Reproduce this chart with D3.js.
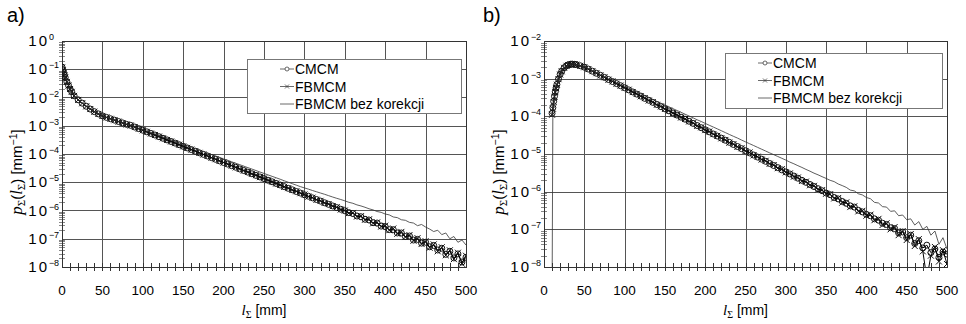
<!DOCTYPE html>
<html>
<head>
<meta charset="utf-8">
<script src="https://cdn.jsdelivr.net/npm/d3@7"></script>
<style>
body { margin: 0; background: #fff; }
text { font-family: "Liberation Sans", Arial, sans-serif; fill: #000; }
</style>
</head>
<body>
<script>
// path length l (mm) at which the values were read
var lA = [0,1,2,3,4,6,8,10,12,15].concat(d3.range(20, 501, 5));
var lB = [10,11,12,13,14,15,16,18,20,22,25,28,30,33,35,38].concat(d3.range(40, 501, 5));

// panel a) p(l) [1/mm]
var cmcmA = [1.2e-1, 9.5e-2, 7.6e-2, 6.2e-2, 5.1e-2, 3.6e-2, 2.7e-2, 2.0e-2, 1.6e-2, 1.15e-2,
  8.3e-3, 6.3e-3, 4.9e-3, 3.9e-3, 3.16e-3, 2.63e-3, 2.24e-3, 1.98e-3, 1.77e-3, 1.58e-3,
  1.41e-3, 1.26e-3, 1.12e-3, 1.03e-3, 9.0e-4, 7.9e-4, 6.95e-4, 6.1e-4, 5.35e-4, 4.7e-4,
  4.1e-4, 3.6e-4, 3.16e-4, 2.77e-4, 2.43e-4, 2.13e-4, 1.87e-4, 1.64e-4, 1.44e-4, 1.26e-4,
  1.1e-4, 9.7e-5, 8.5e-5, 7.45e-5, 6.5e-5, 5.7e-5, 5.0e-5, 4.4e-5, 3.85e-5, 3.4e-5,
  2.95e-5, 2.6e-5, 2.28e-5, 2.0e-5, 1.75e-5, 1.54e-5, 1.35e-5, 1.18e-5, 1.04e-5, 9.1e-6,
  8.0e-6, 7.0e-6, 6.1e-6, 5.4e-6, 4.7e-6, 4.15e-6, 3.6e-6, 3.2e-6, 2.8e-6, 2.45e-6,
  2.15e-6, 1.88e-6, 1.65e-6, 1.45e-6, 1.27e-6, 1.11e-6, 9.8e-7, 8.4e-7, 7.8e-7, 6.4e-7,
  6.0e-7, 4.9e-7, 4.6e-7, 3.7e-7, 3.6e-7, 2.8e-7, 2.7e-7, 2.1e-7, 2.1e-7, 1.6e-7,
  1.6e-7, 1.2e-7, 1.25e-7, 9.0e-8, 9.5e-8, 7.0e-8, 7.5e-8, 5.2e-8, 5.8e-8, 4.0e-8,
  4.6e-8, 2.8e-8, 3.6e-8, 2.1e-8, 2.9e-8, 1.5e-8, 2.2e-8];
var fbmcmA = [1.15e-1, 9.2e-2, 7.4e-2, 6.0e-2, 5.0e-2, 3.55e-2, 2.65e-2, 2.0e-2, 1.58e-2, 1.14e-2,
  8.2e-3, 6.25e-3, 4.85e-3, 3.9e-3, 3.15e-3, 2.62e-3, 2.22e-3, 1.97e-3, 1.76e-3, 1.57e-3,
  1.4e-3, 1.25e-3, 1.11e-3, 1.02e-3, 9.0e-4, 7.85e-4, 6.9e-4, 6.1e-4, 5.3e-4, 4.7e-4,
  4.15e-4, 3.6e-4, 3.15e-4, 2.78e-4, 2.42e-4, 2.14e-4, 1.86e-4, 1.65e-4, 1.43e-4, 1.27e-4,
  1.1e-4, 9.6e-5, 8.5e-5, 7.4e-5, 6.55e-5, 5.7e-5, 5.0e-5, 4.4e-5, 3.9e-5, 3.35e-5,
  2.98e-5, 2.58e-5, 2.3e-5, 1.98e-5, 1.77e-5, 1.52e-5, 1.36e-5, 1.17e-5, 1.05e-5, 9.0e-6,
  8.1e-6, 6.9e-6, 6.2e-6, 5.3e-6, 4.8e-6, 4.1e-6, 3.7e-6, 3.1e-6, 2.85e-6, 2.4e-6,
  2.2e-6, 1.85e-6, 1.7e-6, 1.42e-6, 1.3e-6, 1.08e-6, 1.0e-6, 8.0e-7, 8.2e-7, 6.1e-7,
  6.3e-7, 4.7e-7, 4.9e-7, 3.5e-7, 3.8e-7, 2.7e-7, 2.9e-7, 2.0e-7, 2.3e-7, 1.5e-7,
  1.75e-7, 1.15e-7, 1.35e-7, 8.5e-8, 1.05e-7, 6.5e-8, 8.2e-8, 4.8e-8, 6.3e-8, 3.6e-8,
  5.0e-8, 2.6e-8, 3.9e-8, 1.9e-8, 3.2e-8, 1.3e-8, 2.5e-8];
var rawA = [1.2e-1, 9.4e-2, 7.5e-2, 6.1e-2, 5.1e-2, 3.6e-2, 2.7e-2, 2.0e-2, 1.6e-2, 1.15e-2,
  8.3e-3, 6.3e-3, 4.9e-3, 3.9e-3, 3.17e-3, 2.64e-3, 2.25e-3, 1.99e-3, 1.78e-3, 1.6e-3,
  1.43e-3, 1.28e-3, 1.14e-3, 1.04e-3, 9.15e-4, 8.1e-4, 7.2e-4, 6.4e-4, 5.7e-4, 5.05e-4,
  4.5e-4, 4.0e-4, 3.55e-4, 3.15e-4, 2.8e-4, 2.48e-4, 2.2e-4, 1.96e-4, 1.74e-4, 1.55e-4,
  1.37e-4, 1.22e-4, 1.08e-4, 9.6e-5, 8.5e-5, 7.6e-5, 6.7e-5, 6.0e-5, 5.3e-5, 4.7e-5,
  4.2e-5, 3.7e-5, 3.3e-5, 2.93e-5, 2.6e-5, 2.3e-5, 2.05e-5, 1.82e-5, 1.62e-5, 1.44e-5,
  1.28e-5, 1.13e-5, 1.0e-5, 8.9e-6, 7.9e-6, 7.0e-6, 6.3e-6, 5.7e-6, 5.1e-6, 4.6e-6,
  4.15e-6, 3.75e-6, 3.35e-6, 3.0e-6, 2.7e-6, 2.45e-6, 2.2e-6, 1.95e-6, 1.8e-6, 1.58e-6,
  1.45e-6, 1.3e-6, 1.15e-6, 1.05e-6, 9.2e-7, 8.6e-7, 7.5e-7, 7.0e-7, 5.9e-7, 5.6e-7,
  4.7e-7, 4.5e-7, 3.8e-7, 3.6e-7, 2.9e-7, 3.2e-7, 2.6e-7, 2.2e-7, 1.8e-7, 2.0e-7,
  1.4e-7, 1.6e-7, 1.0e-7, 1.2e-7, 7.5e-8, 9.0e-8, 6.0e-8];

// panel b) p(l) [1/mm]
var cmcmB = [1.2e-4, 1.7e-4, 2.5e-4, 3.4e-4, 4.5e-4, 5.7e-4, 7.0e-4, 9.8e-4,
  1.3e-3, 1.58e-3, 1.95e-3, 2.2e-3, 2.32e-3, 2.42e-3, 2.44e-3, 2.4e-3,
  2.36e-3, 2.2e-3, 2.02e-3, 1.8e-3, 1.58e-3, 1.39e-3, 1.23e-3, 1.08e-3, 9.5e-4, 8.4e-4,
  7.4e-4, 6.5e-4, 5.75e-4, 5.05e-4, 4.45e-4, 3.9e-4, 3.45e-4, 3.0e-4, 2.67e-4, 2.35e-4,
  2.06e-4, 1.81e-4, 1.59e-4, 1.4e-4, 1.23e-4, 1.08e-4, 9.5e-5, 8.4e-5, 7.4e-5, 6.5e-5,
  5.7e-5, 5.0e-5, 4.4e-5, 3.87e-5, 3.4e-5, 3.0e-5, 2.64e-5, 2.32e-5, 2.04e-5, 1.79e-5,
  1.58e-5, 1.39e-5, 1.22e-5, 1.07e-5, 9.4e-6, 8.3e-6, 7.3e-6, 6.4e-6, 5.6e-6, 4.95e-6,
  4.35e-6, 3.8e-6, 3.35e-6, 2.95e-6, 2.6e-6, 2.28e-6, 2.0e-6, 1.77e-6, 1.55e-6, 1.37e-6,
  1.2e-6, 1.06e-6, 9.2e-7, 8.3e-7, 7.0e-7, 6.4e-7, 5.5e-7, 4.9e-7, 4.2e-7, 3.9e-7,
  3.2e-7, 2.9e-7, 2.5e-7, 2.3e-7, 1.9e-7, 1.75e-7, 1.45e-7, 1.35e-7, 1.1e-7, 1.05e-7,
  8.0e-8, 8.5e-8, 6.0e-8, 7.0e-8, 4.2e-8, 5.0e-8, 3.2e-8, 3.8e-8, 2.4e-8, 3.0e-8,
  1.8e-8, 2.5e-8, 2.2e-8];
var fbmcmB = [1.1e-4, 1.6e-4, 2.4e-4, 3.3e-4, 4.4e-4, 5.6e-4, 6.9e-4, 9.7e-4,
  1.29e-3, 1.57e-3, 1.94e-3, 2.19e-3, 2.31e-3, 2.41e-3, 2.43e-3, 2.39e-3,
  2.35e-3, 2.19e-3, 2.01e-3, 1.79e-3, 1.58e-3, 1.4e-3, 1.22e-3, 1.09e-3, 9.4e-4, 8.45e-4,
  7.35e-4, 6.55e-4, 5.7e-4, 5.1e-4, 4.4e-4, 3.95e-4, 3.4e-4, 3.05e-4, 2.63e-4, 2.38e-4,
  2.03e-4, 1.83e-4, 1.57e-4, 1.42e-4, 1.21e-4, 1.1e-4, 9.3e-5, 8.5e-5, 7.3e-5, 6.6e-5,
  5.6e-5, 5.1e-5, 4.3e-5, 3.95e-5, 3.35e-5, 3.05e-5, 2.6e-5, 2.36e-5, 2.0e-5, 1.83e-5,
  1.55e-5, 1.42e-5, 1.2e-5, 1.1e-5, 9.2e-6, 8.5e-6, 7.1e-6, 6.6e-6, 5.5e-6, 5.1e-6,
  4.2e-6, 3.95e-6, 3.25e-6, 3.05e-6, 2.5e-6, 2.38e-6, 1.92e-6, 1.85e-6, 1.48e-6, 1.43e-6,
  1.14e-6, 1.1e-6, 8.8e-7, 8.6e-7, 6.6e-7, 6.8e-7, 5.1e-7, 5.2e-7, 3.9e-7, 4.1e-7,
  3.0e-7, 3.1e-7, 2.3e-7, 2.45e-7, 1.75e-7, 1.9e-7, 1.3e-7, 1.45e-7, 1.0e-7, 1.15e-7,
  7.0e-8, 9.0e-8, 5.2e-8, 7.5e-8, 3.6e-8, 5.5e-8, 2.6e-8, 5e-9, 2.0e-8, 3.4e-8,
  1.4e-8, 2.8e-8, 1.2e-8];
var rawB = [1e-9, 1.7e-4, 2.5e-4, 3.4e-4, 4.5e-4, 5.7e-4, 7.0e-4, 9.8e-4,
  1.3e-3, 1.58e-3, 1.95e-3, 2.2e-3, 2.33e-3, 2.43e-3, 2.45e-3, 2.42e-3,
  2.38e-3, 2.23e-3, 2.05e-3, 1.83e-3, 1.6e-3, 1.42e-3, 1.26e-3, 1.12e-3, 1.0e-3, 8.9e-4,
  7.9e-4, 7.0e-4, 6.2e-4, 5.55e-4, 4.95e-4, 4.4e-4, 3.95e-4, 3.5e-4, 3.15e-4, 2.8e-4,
  2.5e-4, 2.24e-4, 2.0e-4, 1.79e-4, 1.6e-4, 1.43e-4, 1.28e-4, 1.14e-4, 1.02e-4, 9.1e-5,
  8.1e-5, 7.3e-5, 6.5e-5, 5.8e-5, 5.2e-5, 4.65e-5, 4.15e-5, 3.7e-5, 3.3e-5, 2.95e-5,
  2.65e-5, 2.35e-5, 2.1e-5, 1.88e-5, 1.68e-5, 1.5e-5, 1.34e-5, 1.2e-5, 1.07e-5, 9.6e-6,
  8.6e-6, 7.7e-6, 6.9e-6, 6.1e-6, 5.5e-6, 4.9e-6, 4.4e-6, 3.9e-6, 3.5e-6, 3.1e-6,
  2.8e-6, 2.5e-6, 2.25e-6, 2.0e-6, 1.85e-6, 1.6e-6, 1.45e-6, 1.3e-6, 1.1e-6, 1.05e-6,
  8.8e-7, 8.2e-7, 7.0e-7, 6.5e-7, 5.2e-7, 5.0e-7, 4.0e-7, 3.9e-7, 3.0e-7, 3.1e-7,
  2.3e-7, 2.4e-7, 1.8e-7, 1.9e-7, 1.3e-7, 1.6e-7, 1.0e-7, 1.2e-7, 7e-8, 9e-8,
  4e-8, 6e-8, 3e-8];

var xTicks = d3.range(0, 501, 50);
var legendNames = ["CMCM", "FBMCM", "FBMCM bez korekcji"];

var svg = d3.select("body").append("svg")
  .attr("width", 966)
  .attr("height", 324);

function zip(ls, vs) {
  var out = [];
  for (var i = 0; i < Math.min(ls.length, vs.length); i++) out.push([ls[i], vs[i]]);
  return out;
}

function drawPanel(o) {
  var x = d3.scaleLinear().domain([0, 500]).range([o.left, o.right]);
  var y = d3.scaleLog().domain([1e-8, o.yMax]).range([o.bottom, o.top]);
  var g = svg.append("g");
  var px = function(v) { return Math.round(v) + 0.5; };

  // panel letter
  g.append("text").attr("x", o.letterX).attr("y", 22)
    .attr("font-size", "20px").text(o.letter);

  // vertical grid
  g.selectAll(".vg").data(xTicks.slice(1, -1)).enter().append("line")
    .attr("x1", d => px(x(d))).attr("x2", d => px(x(d)))
    .attr("y1", o.top).attr("y2", o.bottom + 4)
    .attr("stroke", "#555").attr("stroke-width", 1);

  // horizontal grid at decades
  var decades = d3.range(-8, Math.round(Math.log10(o.yMax)) + 1).map(e => Math.pow(10, e));
  g.selectAll(".hg").data(decades.slice(1, -1)).enter().append("line")
    .attr("x1", o.left).attr("x2", o.right)
    .attr("y1", d => px(y(d))).attr("y2", d => px(y(d)))
    .attr("stroke", "#555").attr("stroke-width", 1);

  // minor y ticks
  var minor = [];
  decades.slice(0, -1).forEach(function(d) {
    for (var k = 2; k <= 9; k++) minor.push(d * k);
  });
  g.selectAll(".my").data(minor).enter().append("line")
    .attr("x1", o.left - 3).attr("x2", o.left + 3)
    .attr("y1", d => px(y(d))).attr("y2", d => px(y(d)))
    .attr("stroke", "#888").attr("stroke-width", 1);

  // minor x ticks
  g.selectAll(".mx").data(d3.range(10, 500, 10)).enter().append("line")
    .attr("x1", d => px(x(d))).attr("x2", d => px(x(d)))
    .attr("y1", o.bottom - 4).attr("y2", o.bottom + 4)
    .attr("stroke", "#333").attr("stroke-width", 1);

  // frame
  g.append("rect")
    .attr("x", px(o.left)).attr("y", px(o.top))
    .attr("width", Math.round(o.right - o.left)).attr("height", Math.round(o.bottom - o.top))
    .attr("fill", "none").attr("stroke", "#333").attr("stroke-width", 1);

  // x tick labels
  g.selectAll(".xl").data(xTicks).enter().append("text")
    .attr("x", d => x(d)).attr("y", o.bottom + 28)
    .attr("text-anchor", "middle").attr("font-size", "13.5px")
    .text(d => d);

  // y tick labels 10^n
  var yl = g.selectAll(".yl").data(decades).enter().append("text")
    .attr("x", o.left - 13).attr("y", d => y(d) + 5)
    .attr("text-anchor", "end").attr("font-size", "15px")
    .attr("letter-spacing", "2px");
  yl.append("tspan").text("10");
  yl.append("tspan")
    .attr("x", o.left - 13).attr("dy", -6)
    .attr("text-anchor", "start").attr("font-size", "9px")
    .attr("letter-spacing", "-0.3px")
    .text(d => { var e = Math.round(Math.log10(d)); return e < 0 ? "\u2212" + (-e) : e; });

  // x axis label
  var xl = g.append("text").attr("x", (o.left + o.right) / 2).attr("y", o.bottom + 48)
    .attr("text-anchor", "middle").attr("font-size", "14px");
  xl.append("tspan").attr("font-family", "Liberation Serif, serif").attr("font-style", "italic").attr("font-size", "15px").text("l");
  xl.append("tspan").attr("font-family", "Liberation Serif, serif").attr("font-size", "10px").attr("dy", 3).text("\u03A3");
  xl.append("tspan").attr("dy", -3).text(" [mm]");

  // y axis label
  var ylab = g.append("text")
    .attr("transform", `translate(${o.left - 40}, ${(o.top + o.bottom) / 2 + 18}) rotate(-90)`)
    .attr("text-anchor", "middle").attr("font-size", "15px");
  ylab.append("tspan").attr("font-family", "Liberation Serif, serif").attr("font-style", "italic").attr("font-size", "17px").text("p");
  ylab.append("tspan").attr("font-family", "Liberation Serif, serif").attr("font-size", "11px").attr("dy", 3).text("\u03A3");
  ylab.append("tspan").attr("dy", -3).text("(");
  ylab.append("tspan").attr("font-family", "Liberation Serif, serif").attr("font-style", "italic").attr("font-size", "17px").text("l");
  ylab.append("tspan").attr("font-family", "Liberation Serif, serif").attr("font-size", "11px").attr("dy", 3).text("\u03A3");
  ylab.append("tspan").attr("dy", -3).text(") [mm");
  ylab.append("tspan").attr("font-size", "10.5px").attr("dy", -5).text("\u22121");
  ylab.append("tspan").attr("dy", 5).text("]");

  // clip
  var cid = "clip" + o.letter.charAt(0);
  svg.append("clipPath").attr("id", cid).append("rect")
    .attr("x", o.left).attr("y", o.top)
    .attr("width", o.right - o.left).attr("height", o.bottom - o.top);
  var plot = g.append("g").attr("clip-path", `url(#${cid})`);

  var line = d3.line().x(d => x(d[0])).y(d => y(d[1]));
  var sC = zip(o.l, o.cmcm), sF = zip(o.l, o.fbmcm), sR = zip(o.l, o.raw);

  plot.append("path").datum(sC).attr("d", line)
    .attr("fill", "none").attr("stroke", "#000").attr("stroke-width", 1);
  plot.selectAll(".pc").data(sC).enter().append("circle")
    .attr("cx", d => x(d[0])).attr("cy", d => y(d[1])).attr("r", 3)
    .attr("fill", "none").attr("stroke", "#111").attr("stroke-width", 1);

  plot.append("path").datum(sF).attr("d", line)
    .attr("fill", "none").attr("stroke", "#000").attr("stroke-width", 1);
  plot.selectAll(".pf").data(sF).enter().append("path")
    .attr("transform", d => `translate(${x(d[0])},${y(d[1])})`)
    .attr("d", "M-3,-3L3,3M-3,3L3,-3")
    .attr("stroke", "#111").attr("stroke-width", 1);

  plot.append("path").datum(sR).attr("d", line)
    .attr("fill", "none").attr("stroke", "#333").attr("stroke-width", 0.8);

  // legend
  var lg = g.append("g");
  lg.append("rect")
    .attr("x", o.legX + 0.5).attr("y", o.legY + 0.5)
    .attr("width", o.legW).attr("height", o.legH)
    .attr("fill", "#fff").attr("stroke", "#777").attr("stroke-width", 1);
  legendNames.forEach(function(name, i) {
    var cy = o.legY + 10 + i * 17.5;
    var sx = o.legX + o.sampleDx;
    lg.append("line").attr("x1", sx).attr("x2", sx + 14)
      .attr("y1", cy).attr("y2", cy)
      .attr("stroke", "#444").attr("stroke-width", 0.8);
    if (i === 0) {
      lg.append("circle").attr("cx", sx + 7).attr("cy", cy).attr("r", 2)
        .attr("fill", "#fff").attr("stroke", "#444").attr("stroke-width", 0.8);
    } else if (i === 1) {
      lg.append("path").attr("transform", `translate(${sx + 7},${cy})`)
        .attr("d", "M-2,-2L2,2M-2,2L2,-2")
        .attr("stroke", "#444").attr("stroke-width", 0.8);
    }
    lg.append("text").attr("x", sx + 15).attr("y", cy + 5)
      .attr("font-size", "14px").text(name);
  });
}

drawPanel({
  letter: "a)", letterX: 7,
  left: 62, right: 466, top: 41, bottom: 267, yMax: 1,
  l: lA, cmcm: cmcmA, fbmcm: fbmcmA, raw: rawA,
  legX: 247, legY: 59, legW: 214, legH: 54, sampleDx: 33
});

drawPanel({
  letter: "b)", letterX: 483,
  left: 544, right: 947, top: 41, bottom: 267, yMax: 1e-2,
  l: lB, cmcm: cmcmB, fbmcm: fbmcmB, raw: rawB,
  legX: 725, legY: 53, legW: 217, legH: 55, sampleDx: 33
});
</script>
</body>
</html>
